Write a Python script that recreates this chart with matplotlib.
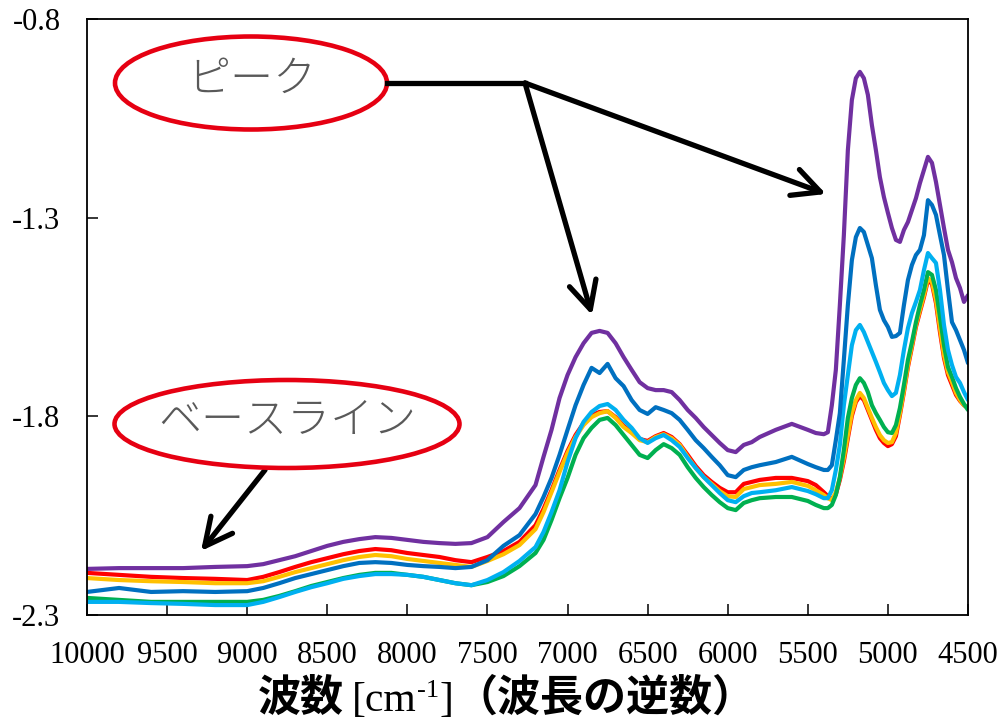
#!/usr/bin/env python3
"""NIR spectra: peak vs baseline illustration."""

import matplotlib

matplotlib.use("Agg")
import matplotlib.pyplot as plt
from matplotlib.patches import Ellipse

# wavenumber grid [cm-1]
wavenumber = [
    10000, 9800, 9600, 9400, 9200, 9000, 8900, 8800, 8700, 8600,
    8500, 8400, 8300, 8200, 8100, 8000, 7900, 7800, 7700, 7600,
    7500, 7400, 7300, 7200, 7150, 7100, 7050, 7000, 6950, 6900,
    6850, 6800, 6750, 6700, 6650, 6600, 6550, 6500, 6450, 6400,
    6350, 6300, 6250, 6200, 6150, 6100, 6050, 6000, 5950, 5900,
    5850, 5800, 5700, 5600, 5500, 5450, 5400, 5375, 5350, 5325,
    5300, 5275, 5250, 5225, 5200, 5175, 5150, 5125, 5100, 5075,
    5050, 5025, 5000, 4975, 4950, 4925, 4900, 4875, 4850, 4825,
    4800, 4775, 4750, 4725, 4700, 4675, 4650, 4625, 4600, 4575,
    4550, 4525, 4500,
]

purple = [
    -2.184, -2.182, -2.182, -2.182, -2.179, -2.177, -2.172, -2.162, -2.152, -2.139,
    -2.126, -2.116, -2.109, -2.104, -2.106, -2.111, -2.116, -2.119, -2.121, -2.119,
    -2.104, -2.066, -2.031, -1.973, -1.902, -1.834, -1.754, -1.696, -1.651, -1.616,
    -1.590, -1.585, -1.590, -1.616, -1.651, -1.683, -1.714, -1.729, -1.734, -1.734,
    -1.739, -1.759, -1.784, -1.804, -1.827, -1.847, -1.867, -1.885, -1.890, -1.872,
    -1.865, -1.852, -1.834, -1.819, -1.834, -1.842, -1.845, -1.840, -1.772, -1.683,
    -1.520, -1.344, -1.130, -1.004, -0.949, -0.933, -0.949, -0.991, -1.067, -1.130,
    -1.198, -1.248, -1.288, -1.326, -1.356, -1.361, -1.331, -1.311, -1.281, -1.251,
    -1.213, -1.180, -1.147, -1.162, -1.210, -1.268, -1.326, -1.381, -1.412, -1.452,
    -1.477, -1.512, -1.495,
]
blue = [
    -2.242, -2.232, -2.242, -2.240, -2.242, -2.240, -2.232, -2.220, -2.207, -2.197,
    -2.187, -2.177, -2.169, -2.167, -2.169, -2.174, -2.177, -2.179, -2.182, -2.179,
    -2.162, -2.126, -2.099, -2.046, -2.003, -1.955, -1.897, -1.834, -1.772, -1.721,
    -1.678, -1.691, -1.668, -1.704, -1.724, -1.759, -1.784, -1.794, -1.777, -1.784,
    -1.792, -1.809, -1.834, -1.860, -1.880, -1.902, -1.923, -1.948, -1.953, -1.935,
    -1.928, -1.923, -1.915, -1.902, -1.920, -1.928, -1.935, -1.935, -1.923, -1.860,
    -1.792, -1.658, -1.520, -1.407, -1.349, -1.326, -1.336, -1.369, -1.402, -1.470,
    -1.532, -1.558, -1.575, -1.600, -1.598, -1.590, -1.520, -1.457, -1.419, -1.394,
    -1.381, -1.344, -1.256, -1.268, -1.293, -1.344, -1.394, -1.482, -1.563, -1.583,
    -1.608, -1.633, -1.666,
]
light_blue = [
    -2.267, -2.267, -2.270, -2.272, -2.275, -2.275, -2.267, -2.255, -2.242, -2.230,
    -2.220, -2.209, -2.202, -2.197, -2.197, -2.199, -2.204, -2.212, -2.220, -2.225,
    -2.212, -2.192, -2.164, -2.129, -2.091, -2.041, -1.986, -1.915, -1.855, -1.814,
    -1.789, -1.774, -1.769, -1.784, -1.809, -1.829, -1.855, -1.867, -1.855, -1.847,
    -1.860, -1.877, -1.905, -1.930, -1.953, -1.973, -1.993, -2.011, -2.016, -2.001,
    -1.993, -1.991, -1.986, -1.978, -1.988, -1.996, -2.006, -2.006, -1.986, -1.935,
    -1.872, -1.772, -1.696, -1.621, -1.583, -1.570, -1.588, -1.613, -1.638, -1.663,
    -1.689, -1.716, -1.734, -1.749, -1.741, -1.696, -1.633, -1.578, -1.540, -1.512,
    -1.482, -1.432, -1.389, -1.402, -1.414, -1.482, -1.570, -1.633, -1.671, -1.701,
    -1.716, -1.739, -1.759,
]
green = [
    -2.257, -2.262, -2.267, -2.267, -2.267, -2.267, -2.262, -2.252, -2.240, -2.227,
    -2.217, -2.207, -2.199, -2.194, -2.194, -2.199, -2.204, -2.212, -2.220, -2.225,
    -2.217, -2.202, -2.177, -2.144, -2.111, -2.061, -2.006, -1.955, -1.897, -1.855,
    -1.829, -1.809, -1.804, -1.822, -1.847, -1.872, -1.897, -1.905, -1.885, -1.870,
    -1.880, -1.897, -1.928, -1.955, -1.978, -1.998, -2.016, -2.031, -2.036, -2.018,
    -2.011, -2.006, -2.003, -2.003, -2.013, -2.023, -2.031, -2.031, -2.023, -1.998,
    -1.953, -1.885, -1.804, -1.754, -1.721, -1.704, -1.716, -1.739, -1.772, -1.792,
    -1.809, -1.827, -1.840, -1.842, -1.822, -1.779, -1.721, -1.658, -1.613, -1.563,
    -1.520, -1.482, -1.437, -1.444, -1.482, -1.550, -1.621, -1.676, -1.701, -1.729,
    -1.751, -1.769, -1.784,
]
orange = [
    -2.207, -2.212, -2.215, -2.217, -2.220, -2.220, -2.215, -2.204, -2.192, -2.182,
    -2.172, -2.162, -2.154, -2.149, -2.152, -2.159, -2.164, -2.169, -2.174, -2.179,
    -2.164, -2.147, -2.124, -2.084, -2.041, -1.991, -1.940, -1.892, -1.852, -1.822,
    -1.802, -1.792, -1.787, -1.804, -1.827, -1.842, -1.860, -1.865, -1.852, -1.845,
    -1.855, -1.872, -1.902, -1.930, -1.953, -1.970, -1.988, -2.001, -2.003, -1.983,
    -1.978, -1.973, -1.970, -1.965, -1.975, -1.986, -1.998, -2.006, -2.011, -1.991,
    -1.955, -1.905, -1.847, -1.792, -1.759, -1.741, -1.754, -1.779, -1.804, -1.827,
    -1.847, -1.860, -1.867, -1.865, -1.842, -1.792, -1.734, -1.671, -1.621, -1.570,
    -1.532, -1.495, -1.452, -1.462, -1.507, -1.578, -1.646, -1.689, -1.714, -1.741,
    -1.759, -1.772, -1.779,
]
red = [
    -2.194, -2.199, -2.204, -2.207, -2.209, -2.212, -2.204, -2.192, -2.179, -2.167,
    -2.157, -2.147, -2.139, -2.134, -2.137, -2.144, -2.149, -2.154, -2.162, -2.167,
    -2.154, -2.139, -2.116, -2.074, -2.033, -1.986, -1.935, -1.887, -1.847, -1.817,
    -1.797, -1.789, -1.787, -1.802, -1.824, -1.840, -1.857, -1.862, -1.850, -1.842,
    -1.852, -1.870, -1.897, -1.925, -1.948, -1.965, -1.980, -1.991, -1.991, -1.970,
    -1.965, -1.960, -1.955, -1.955, -1.963, -1.973, -1.991, -2.001, -2.008, -1.996,
    -1.960, -1.913, -1.855, -1.799, -1.764, -1.749, -1.759, -1.784, -1.809, -1.834,
    -1.855, -1.867, -1.875, -1.870, -1.850, -1.797, -1.739, -1.676, -1.626, -1.575,
    -1.537, -1.500, -1.457, -1.467, -1.515, -1.588, -1.653, -1.696, -1.721, -1.746,
    -1.761, -1.772, -1.779,
]

SERIES = [
    (red, "#FF0000"),
    (orange, "#FFC000"),
    (green, "#00B050"),
    (light_blue, "#00B0F0"),
    (blue, "#0070C0"),
    (purple, "#7030A0"),
]

x_ticks = [10000, 9500, 9000, 8500, 8000, 7500, 7000, 6500, 6000, 5500, 5000, 4500]
y_ticks = [-0.8, -1.3, -1.8, -2.3]

W, H = 1001, 721
CJK = ["Noto Sans CJK JP", "DejaVu Sans"]
SERIF = ["Liberation Serif", "DejaVu Serif"]


def fpos(x, y):
    # pixel position (from top-left) -> figure fraction
    return x / W, 1 - y / H


plt.rcParams["font.family"] = SERIF

fig = plt.figure(figsize=(W / 100, H / 100), dpi=100)
ax = fig.add_axes([87 / W, 1 - 615 / H, 881 / W, 596 / H])

for values, color in SERIES:
    ax.plot(wavenumber, values, color=color, linewidth=3.0,
            solid_joinstyle="round", solid_capstyle="round")

ax.set_xlim(10000, 4500)
ax.set_ylim(-2.3, -0.8)
ax.set_xticks(x_ticks)
ax.set_xticklabels([str(t) for t in x_ticks])
ax.set_yticks(y_ticks)
ax.set_yticklabels([f"{t:.1f}" for t in y_ticks])
ax.tick_params(axis="both", direction="in", length=8, width=1.1, labelsize=22)
ax.tick_params(axis="x", pad=19)
ax.tick_params(axis="y", pad=19)
for spine in ax.spines.values():
    spine.set_linewidth(1.3)
    spine.set_color("black")

# x label built from pieces: bold gothic CJK, regular serif unit, raised exponent
renderer = fig.canvas.get_renderer()
label_pieces = [
    ("波数", dict(family=CJK, fontsize=31, fontweight="bold"), 0, 8),
    ("[cm", dict(family=SERIF, fontsize=30), 0, 0),
    ("-1", dict(family=SERIF, fontsize=19), 14, 1),
    ("]", dict(family=SERIF, fontsize=30), 0, 1),
    ("（波長の逆数）", dict(family=CJK, fontsize=31, fontweight="bold"), 0, 0),
]
x_px, base_px = 258, 711
for text, kw, rise, gap in label_pieces:
    t = fig.text(*fpos(x_px, base_px - rise), text, ha="left", va="baseline", **kw)
    x_px += t.get_window_extent(renderer).width + gap

# callouts
ell_color = "#E60012"
for (cx, cy, w, h) in [(251, 83, 272, 93), (287, 424, 345, 88)]:
    fig.patches.append(Ellipse(fpos(cx, cy), w / W, h / H, transform=fig.transFigure,
                               facecolor="white", edgecolor=ell_color, linewidth=3.3))
fig.text(*fpos(252, 79), "ピーク", ha="center", va="center", fontsize=31,
         color="#595959", family=CJK, fontweight="light")
fig.text(*fpos(287, 421), "ベースライン", ha="center", va="center", fontsize=31,
         color="#595959", family=CJK, fontweight="light")

arrow_kw = dict(arrowstyle="->,head_length=0.9,head_width=0.45", color="black",
                lw=3.8, shrinkA=0, shrinkB=0, mutation_scale=22,
                joinstyle="round", capstyle="round")
fig.add_artist(plt.Line2D([387 / W, 525 / W], [1 - 83 / H, 1 - 83 / H],
                          transform=fig.transFigure, color="black", lw=3.8))
for start, end in [((525, 83), (826, 194)), ((525, 83), (592, 315)), ((265, 470), (201, 551))]:
    ax.annotate("", xy=fpos(*end), xytext=fpos(*start), xycoords="figure fraction",
                textcoords="figure fraction", arrowprops=arrow_kw)

fig.savefig("out.png", dpi=100)
